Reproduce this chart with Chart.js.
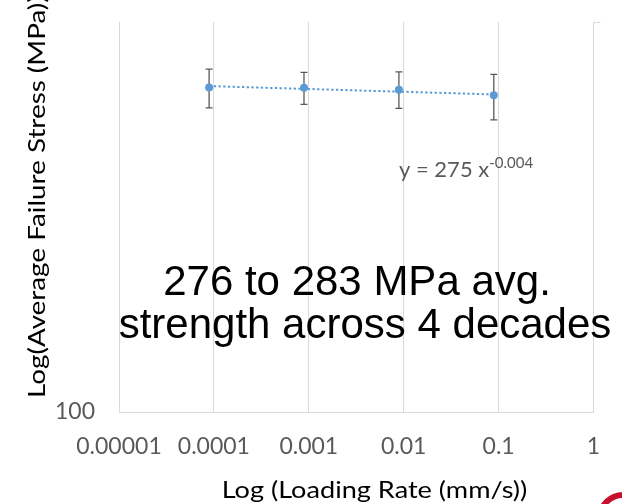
<!DOCTYPE html>
<html>
<head>
<meta charset="utf-8">
<script src="https://cdn.jsdelivr.net/npm/chart.js@4/dist/chart.umd.min.js"></script>
<style>
  html, body { margin: 0; padding: 0; background: #fff; overflow: hidden; }
  #wrap { position: relative; width: 622px; height: 504px; }
  #logo { position: absolute; left: 597px; top: 492px; width: 40px; height: 40px;
          border: 6px solid #C8102E; border-radius: 50%; }
</style>
</head>
<body>
<div id="wrap">
  <canvas id="c" width="622" height="504"></canvas>
  <div id="logo"></div>
</div>
<script>
// ---- data ----
const loadingRates = [0.000089, 0.00089, 0.0089, 0.089];        // mm/s
const avgStress    = [283, 282.6, 280.8, 276];                  // MPa
const stressHigh   = [300, 297, 297.5, 295];                    // error bar tops
const stressLow    = [265, 268, 264.6, 255];                    // error bar bottoms
const trendRates   = [0.000089, 0.089];
const trendStress  = [284.2, 276.7];                            // y = 275 x^-0.004
const xTickValues  = [0.00001, 0.0001, 0.001, 0.01, 0.1, 1];
const xTickLabels  = ["0.00001", "0.0001", "0.001", "0.01", "0.1", "1"];
const yTickValues  = [100];
const yTickLabels  = ["100"];
const yMin = 100, yMax = 349;
const xMin = 0.00001, xMax = 1;

const pointColor = '#5B9BD5';
const tickColor = '#595959';
const gridColor = '#D9D9D9';
const uiFont = 'Lato';

const pointData = loadingRates.map((x, i) => ({ x: x, y: avgStress[i] }));
const trendData = trendRates.map((x, i) => ({ x: x, y: trendStress[i] }));

const errorBars = {
  id: 'errorBars',
  beforeDatasetsDraw(chart) {
    const { ctx, scales: { x, y } } = chart;
    ctx.save();
    ctx.strokeStyle = '#5A5A5A';
    ctx.lineWidth = 1.3;
    loadingRates.forEach((r, i) => {
      const px = x.getPixelForValue(r);
      const top = y.getPixelForValue(stressHigh[i]);
      const bot = y.getPixelForValue(stressLow[i]);
      ctx.beginPath();
      ctx.moveTo(px, top); ctx.lineTo(px, bot);
      ctx.moveTo(px - 3.5, top); ctx.lineTo(px + 3.5, top);
      ctx.moveTo(px - 3.5, bot); ctx.lineTo(px + 3.5, bot);
      ctx.stroke();
    });
    // small top-right gridline stub
    const a = chart.chartArea;
    ctx.strokeStyle = gridColor;
    ctx.lineWidth = 1;
    ctx.beginPath();
    ctx.moveTo(a.right, a.top + 0.5); ctx.lineTo(a.right + 7, a.top + 0.5);
    ctx.stroke();
    ctx.restore();
  }
};

const texts = {
  id: 'texts',
  afterDraw(chart) {
    const { ctx } = chart;
    ctx.save();
    ctx.fillStyle = '#000';
    ctx.font = '24px ' + uiFont;
    ctx.textBaseline = 'alphabetic';

    // y axis title
    ctx.save();
    ctx.translate(45, 398);
    ctx.rotate(-Math.PI / 2);
    ctx.scale(1.16, 1);
    ctx.textAlign = 'left';
    ctx.fillText('Log(Average Failure Stress (MPa))', 0, 0);
    ctx.restore();

    // x axis title
    ctx.save();
    ctx.translate(374.5, 498);
    ctx.scale(1.13, 1);
    ctx.textAlign = 'center';
    ctx.fillText('Log (Loading Rate (mm/s))', 0, 0);
    ctx.restore();

    // trendline equation
    ctx.fillStyle = tickColor;
    ctx.textAlign = 'left';
    ctx.font = '22px ' + uiFont;
    const eq = 'y = 275 x';
    ctx.fillText(eq, 399, 177);
    const w = ctx.measureText(eq).width;
    ctx.font = '15px ' + uiFont;
    ctx.fillText('-0.004', 399 + w, 168);

    // big annotation
    ctx.fillStyle = '#000';
    ctx.font = '42px "Liberation Sans", Arial, sans-serif';
    ctx.textAlign = 'center';
    ctx.fillText('276 to 283 MPa avg.', 357, 295);
    ctx.fillText('strength across 4 decades', 365, 338);
    ctx.restore();
  }
};

new Chart(document.getElementById('c'), {
  type: 'scatter',
  data: {
    datasets: [
      {
        label: 'Trend',
        data: trendData,
        showLine: true,
        borderColor: pointColor,
        borderWidth: 2,
        borderDash: [2.3, 2.4],
        pointRadius: 0,
        fill: false
      },
      {
        label: 'Average Failure Stress',
        data: pointData,
        showLine: false,
        pointRadius: 4,
        pointBackgroundColor: pointColor,
        pointBorderColor: pointColor,
        pointBorderWidth: 0
      }
    ]
  },
  options: {
    responsive: false,
    animation: false,
    layout: { padding: { top: 22, right: 28.5, left: 0, bottom: 0 } },
    plugins: { legend: { display: false }, tooltip: { enabled: false } },
    scales: {
      x: {
        type: 'logarithmic',
        min: xMin, max: xMax,
        afterBuildTicks(scale) { scale.ticks = xTickValues.map(v => ({ value: v })); },
        afterFit(scale) { scale.height = 92; scale.paddingLeft = 0; scale.paddingRight = 0; },
        grid: { color: gridColor, lineWidth: 1, drawTicks: false },
        border: { display: true, color: gridColor },
        ticks: {
          autoSkip: false, maxRotation: 0, padding: 21,
          color: tickColor, font: { family: uiFont, size: 23 },
          callback(value, index) { return xTickLabels[index]; }
        },
        title: { display: false }
      },
      y: {
        type: 'logarithmic',
        min: yMin, max: yMax,
        afterBuildTicks(scale) { scale.ticks = yTickValues.map(v => ({ value: v })); },
        afterFit(scale) { scale.width = 119; scale.paddingTop = 0; scale.paddingBottom = 0; },
        grid: { display: false, drawTicks: false },
        border: { display: false },
        ticks: {
          padding: 24, color: tickColor, font: { family: uiFont, size: 23 },
          callback(value, index) { return yTickLabels[index]; }
        }
      }
    }
  },
  plugins: [errorBars, texts]
});
</script>
</body>
</html>
